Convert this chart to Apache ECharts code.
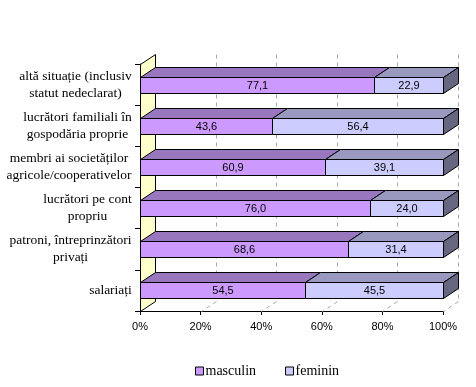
<!DOCTYPE html>
<html><head><meta charset="utf-8">
<script src="https://cdn.jsdelivr.net/npm/echarts@6/dist/echarts.min.js"></script>
<style>html,body{margin:0;padding:0;background:#fff}#c{width:476px;height:387px}</style>
</head><body><div id="c"></div>
<script>
const categories = [
  'altă situație (inclusiv\nstatut nedeclarat)',
  'lucrători familiali în\ngospodăria proprie',
  'membri ai societăților\nagricole/cooperativelor',
  'lucrători pe cont\npropriu',
  'patroni, întreprinzători\nprivați',
  'salariați'
];
const masculin = [77.1, 43.6, 60.9, 76.0, 68.6, 54.5];
const feminin = [22.9, 56.4, 39.1, 24.0, 31.4, 45.5];
const xTicks = [0, 20, 40, 60, 80, 100];
const seriesNames = ['masculin', 'feminin'];

const DX = 15, DY = 10, FACE_H = 16;
const SERIF = '"Liberation Serif", "Times New Roman", serif';
const SANS = '"Liberation Sans", Arial, sans-serif';
const colors = {
  masculin: { front: '#CC99FF', top: '#9977BF', side: '#664D80' },
  feminin: { front: '#CCCCFF', top: '#9999C0', side: '#666680' }
};

const mctx = document.createElement('canvas').getContext('2d');
mctx.font = '13.5px ' + SERIF;
const rich = {};
categories.forEach((c, i) => {
  const w = Math.max(...c.split('\n').map(l => mctx.measureText(l).width));
  rich['c' + i] = { width: Math.ceil(w), align: 'center', fontSize: 13.5, fontFamily: SERIF, lineHeight: 17, color: '#000' };
});

function px(v) { return Math.round(v) + 0.5; }

function barItem(name, isLast) {
  const col = colors[name];
  return function (params, api) {
    const s = api.coord([api.value(0), api.value(2)]);
    const e = api.coord([api.value(1), api.value(2)]);
    const x0 = px(s[0]), x1 = px(e[0]);
    const y0 = px(s[1] - FACE_H / 2), y1 = px(s[1] + FACE_H / 2);
    const ls = { stroke: '#000', lineWidth: 1 };
    const children = [
      { type: 'polygon', shape: { points: [[x0, y0], [x0 + DX, y0 - DY], [x1 + DX, y0 - DY], [x1, y0]] },
        style: Object.assign({ fill: col.top }, ls) },
      { type: 'rect', shape: { x: x0, y: y0, width: x1 - x0, height: y1 - y0 },
        style: Object.assign({ fill: col.front }, ls) }
    ];
    if (isLast) {
      children.push({ type: 'polygon', shape: { points: [[x1, y0], [x1 + DX, y0 - DY], [x1 + DX, y1 - DY], [x1, y1]] },
        style: Object.assign({ fill: col.side }, ls) });
    }
    children.push({ type: 'text', style: {
      text: api.value(3).toFixed(1).replace('.', ','),
      x: (x0 + x1) / 2, y: (y0 + y1) / 2 + 0.5,
      align: 'center', verticalAlign: 'middle',
      font: '11px ' + SANS, fill: '#000' } });
    return { type: 'group', children };
  };
}

function decorItem(params, api) {
  const cs = params.coordSys;
  const L = px(cs.x), T = px(cs.y), B = px(cs.y + cs.height);
  const children = [];
  const dash = { stroke: '#A8A8A8', lineWidth: 1, lineDash: [4, 4] };
  xTicks.forEach(v => {
    if (v === 0) return;
    const x = px(api.coord([v, 0])[0]);
    children.push({ type: 'line', shape: { x1: x + DX, y1: T - DY, x2: x + DX, y2: B - DY }, style: dash });
    children.push({ type: 'line', shape: { x1: x + DX, y1: B - DY, x2: x, y2: B }, style: dash });
  });
  children.push({ type: 'polygon', shape: { points: [[L, T], [L + DX, T - DY], [L + DX, B - DY], [L, B]] },
    style: { fill: '#FFFFCC', stroke: '#000', lineWidth: 1 } });
  return { type: 'group', children };
}

const mData = masculin.map((v, i) => [0, v, i, v]);
const fData = feminin.map((v, i) => [masculin[i], masculin[i] + v, i, v]);

const chart = echarts.init(document.getElementById('c'), null, { renderer: 'canvas' });
chart.setOption({
  animation: false,
  backgroundColor: '#fff',
  grid: { left: 140, right: 33, top: 64, bottom: 76, containLabel: false },
  legend: {
    data: seriesNames,
    left: 190, top: 359,
    icon: 'rect', itemWidth: 8, itemHeight: 8, itemGap: 29,
    itemStyle: { borderColor: '#000', borderWidth: 1 },
    textStyle: { fontFamily: SERIF, fontSize: 14, color: '#000', padding: [0, 0, 0, -3] }
  },
  xAxis: {
    type: 'value', min: 0, max: 100, interval: 20,
    axisLine: { show: true, lineStyle: { color: '#000' } },
    axisTick: { show: true, length: 4, lineStyle: { color: '#000' } },
    splitLine: { show: false },
    axisLabel: { formatter: '{value}%', fontFamily: SANS, fontSize: 11, color: '#000', margin: 10 }
  },
  yAxis: {
    type: 'category', data: categories, inverse: true,
    axisLine: { show: true, lineStyle: { color: '#000' } },
    axisTick: { show: true, length: 5, lineStyle: { color: '#000' } },
    axisLabel: {
      margin: 8, align: 'right',
      formatter: (val) => {
        const i = categories.indexOf(val);
        return val.split('\n').map(l => '{c' + i + '|' + l + '}').join('\n');
      },
      rich
    }
  },
  series: [
    { type: 'custom', name: '_decor', data: [[0, 0]], renderItem: decorItem, z: 1, silent: true },
    { type: 'custom', name: 'masculin', data: mData, renderItem: barItem('masculin', false), z: 3,
      encode: { x: [0, 1], y: 2 }, itemStyle: { color: colors.masculin.front } },
    { type: 'custom', name: 'feminin', data: fData, renderItem: barItem('feminin', true), z: 4,
      encode: { x: [0, 1], y: 2 }, itemStyle: { color: colors.feminin.front } }
  ]
});
</script>
</body></html>
